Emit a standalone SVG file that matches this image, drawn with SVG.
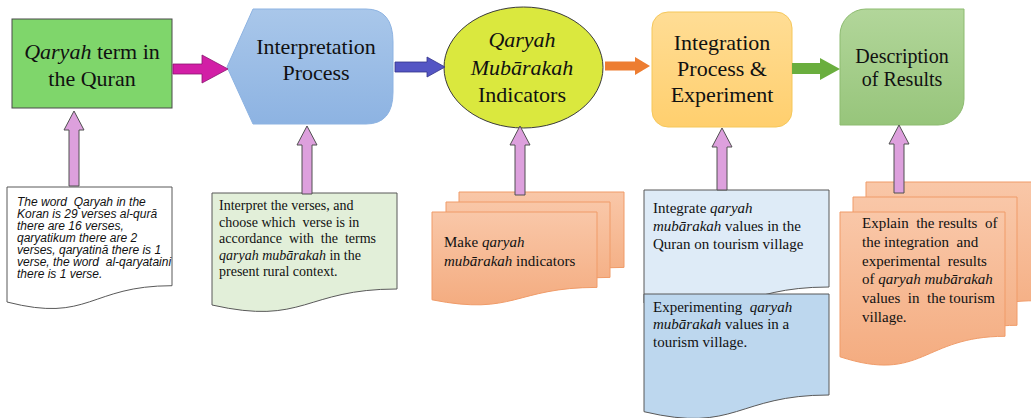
<svg xmlns="http://www.w3.org/2000/svg" width="1031" height="418" viewBox="0 0 1031 418">
<defs>
<linearGradient id="gBlue" x1="0" y1="0" x2="0" y2="1"><stop offset="0" stop-color="#A9C7EA"/><stop offset="1" stop-color="#8DB3E2"/></linearGradient>
<linearGradient id="gOrangeBox" x1="0" y1="0" x2="0" y2="1"><stop offset="0" stop-color="#FFDD95"/><stop offset="1" stop-color="#FFCF6E"/></linearGradient>
<linearGradient id="gGreenBox" x1="0" y1="0" x2="0" y2="1"><stop offset="0" stop-color="#B2D69A"/><stop offset="1" stop-color="#97C57B"/></linearGradient>
<linearGradient id="gDoc" x1="0" y1="0" x2="0" y2="1"><stop offset="0" stop-color="#F9C7A8"/><stop offset="1" stop-color="#F4AC80"/></linearGradient>
</defs>
<style>
.t{font-family:"Liberation Serif","Times New Roman",serif;fill:#111;}
.big{font-size:22px;text-anchor:middle;}
.mid{font-size:20px;text-anchor:middle;}
.s14{font-size:14px;}
.s15{font-size:15px;}
.it{font-style:italic;}
.sans{font-family:"Liberation Sans",Arial,sans-serif;font-style:italic;font-size:12px;fill:#111;}
.doc{stroke:#595959;stroke-width:1;}
.odoc{fill:url(#gDoc);stroke:#F09B68;stroke-width:1;}
.up{fill:#DDA0DD;stroke:#505050;stroke-width:1;}
</style>

<g id="node-qaryah-term">
<rect x="12" y="19" width="160" height="89" fill="#7FD66B" stroke="#4a4a4a" stroke-width="1"/>
<text class="t big" x="92" y="59"><tspan class="it">Qaryah</tspan> term in</text>
<text class="t big" x="92" y="86">the Quran</text>
</g>

<g id="node-interpretation">
<path d="M227,67 L253,9 L366,9 Q393,9 393,42 L393,92 Q393,124 366,124 L253,124 Z" fill="url(#gBlue)" stroke="#8DB3E2" stroke-width="1"/>
<text class="t big" x="316" y="54">Interpretation</text>
<text class="t big" x="316" y="80">Process</text>
</g>

<g id="node-indicators">
<ellipse cx="523.5" cy="67.5" rx="79.5" ry="60.5" fill="#DAE83E" stroke="#3a3a3a" stroke-width="1"/>
<text class="t big it" x="522" y="47">Qaryah</text>
<text class="t big it" x="522" y="75">Mubārakah</text>
<text class="t big" x="522" y="102">Indicators</text>
</g>

<g id="node-integration">
<rect x="652" y="12" width="140" height="115" rx="16" fill="url(#gOrangeBox)" stroke="#F5C75A" stroke-width="1"/>
<text class="t big" x="722" y="50">Integration</text>
<text class="t big" x="722" y="76">Process &amp;</text>
<text class="t big" x="722" y="102">Experiment</text>
</g>

<g id="node-description">
<path d="M866,9 L964,9 L964,99 A26,26 0 0 1 938,125 L840,125 L840,35 A26,26 0 0 1 866,9 Z" fill="url(#gGreenBox)" stroke="#8DBB70" stroke-width="1"/>
<text class="t mid" x="902" y="63">Description</text>
<text class="t mid" x="902" y="86">of Results</text>
</g>

<g id="doc-quran-words">
<path class="doc" d="M7,187 H172 V285.7 C89.5,285.7 89.5,323.3 7,302 Z" fill="#FFFFFF"/>
<text class="sans" x="17" y="206" xml:space="preserve">The word  Qaryah in the</text>
<text class="sans" x="17" y="218">Koran is 29 verses al-qurā</text>
<text class="sans" x="17" y="230">there are 16 verses,</text>
<text class="sans" x="17" y="242">qaryatikum there are 2</text>
<text class="sans" x="17" y="254">verses, qaryatinā there is 1</text>
<text class="sans" x="17" y="266" xml:space="preserve">verse, the word  al-qaryataini</text>
<text class="sans" x="17" y="278">there is 1 verse.</text>
</g>

<g id="doc-interpret">
<path class="doc" d="M212,193 H397 V289 C304.5,289 304.5,326 212,305 Z" fill="#E2EFD9"/>
<text class="t s14" x="219" y="210">Interpret the verses, and</text>
<text class="t s14" x="219" y="226.5" xml:space="preserve">choose which  verse is in</text>
<text class="t s14" x="219" y="243" xml:space="preserve">accordance  with  the  terms</text>
<text class="t s14" x="219" y="259.5"><tspan class="it">qaryah mubārakah</tspan> in the</text>
<text class="t s14" x="219" y="276">present rural context.</text>
</g>

<g id="doc-make-indicators">
<path class="odoc" d="M459,192 H624 V267.4 C541.5,267.4 541.5,296.2 459,279.8 Z"/>
<path class="odoc" d="M446,202 H610 V277.4 C528,277.4 528,306.2 446,289.8 Z"/>
<path class="odoc" d="M432,212 H597 V287.4 C514.5,287.4 514.5,316.2 432,299.8 Z"/>
<text class="t s15" x="444" y="247">Make <tspan class="it">qaryah</tspan></text>
<text class="t s15" x="444" y="266"><tspan class="it">mubārakah</tspan> indicators</text>
</g>

<g id="doc-integrate">
<path class="doc" d="M644,190 H829 V287 C736.5,287 736.5,324 644,303 Z" fill="#DEEBF7"/>
<text class="t s15" x="653" y="213">Integrate <tspan class="it">qaryah</tspan></text>
<text class="t s15" x="653" y="231"><tspan class="it">mubārakah</tspan> values in the</text>
<text class="t s15" x="653" y="249">Quran on tourism village</text>
</g>

<g id="doc-experiment">
<path class="doc" d="M644,294 H829 V395 C736.5,395 736.5,433.6 644,411.7 Z" fill="#BDD7EE"/>
<text class="t s15" x="653" y="312" xml:space="preserve">Experimenting  <tspan class="it">qaryah</tspan></text>
<text class="t s15" x="653" y="329"><tspan class="it">mubārakah</tspan> values in a</text>
<text class="t s15" x="653" y="347">tourism village.</text>
</g>

<g id="doc-explain">
<path class="odoc" d="M866,182 H1036 V300.7 C951,300.7 951,346 866,320 Z"/>
<path class="odoc" d="M853,197 H1017 V325.3 C935,325.3 935,374.3 853,346.4 Z"/>
<path class="odoc" d="M840,212 H1005 V336.3 C922.5,336.3 922.5,383.7 840,356.8 Z"/>
<text class="t s15" x="862" y="228" xml:space="preserve">Explain  the results  of</text>
<text class="t s15" x="862" y="247" xml:space="preserve">the integration  and</text>
<text class="t s15" x="862" y="266" xml:space="preserve">experimental  results</text>
<text class="t s15" x="862" y="284">of <tspan class="it">qaryah mubārakah</tspan></text>
<text class="t s15" x="862" y="303" xml:space="preserve">values  in  the tourism</text>
<text class="t s15" x="862" y="322">village.</text>
</g>

<g id="connectors">
<path d="M173,64 H202 V55 L228,69 L202,83 V74 H173 Z" fill="#D21FA6" stroke="#8a1570" stroke-width="0.8"/>
<path d="M395,62 H427 V57 L445,67 L427,77 V72 H395 Z" fill="#5455C4" stroke="#33338a" stroke-width="0.8"/>
<path d="M605,61.5 H635 V57 L650,66 L635,75 V70.5 H605 Z" fill="#ED7D31"/>
<path d="M792,63 H820 V58 L840,69 L820,80 V74 H792 Z" fill="#6AAE3E"/>
<path class="up" d="M74,111 L84,130 H79 V186 H69 V130 H64 Z"/>
<path class="up" d="M307,126 L317,145 H312 V194 H302 V145 H297 Z"/>
<path class="up" d="M520,126 L530,145 H525 V195 H515 V145 H510 Z"/>
<path class="up" d="M722,128 L732,147 H727 V190 H717 V147 H712 Z"/>
<path class="up" d="M899,125 L909,144 H904 V193 H894 V144 H889 Z"/>
</g>
</svg>
